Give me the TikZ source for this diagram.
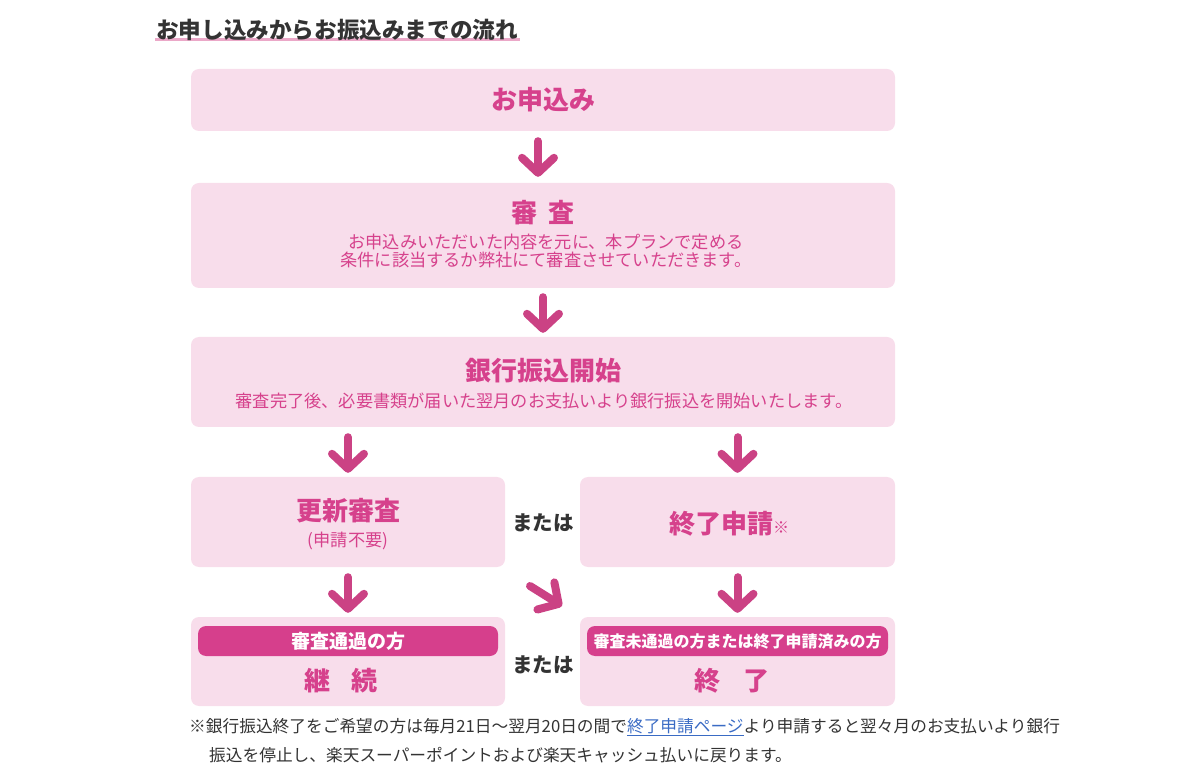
\documentclass[tikz,border=0pt]{standalone}
\usepackage{fontspec}
\setmainfont{Noto Sans CJK JP}
\usetikzlibrary{arrows.meta}
\definecolor{boxfill}{HTML}{F8DDEB}
\definecolor{pk}{HTML}{D6418C}
\definecolor{arrc}{HTML}{CB4284}
\definecolor{pillc}{HTML}{D63F8C}
\definecolor{dark}{HTML}{333333}
\definecolor{lnk}{HTML}{3A6BC4}
\definecolor{uline}{HTML}{EBA8C8}
\newcommand{\fs}[1]{\fontsize{#1}{#1}\selectfont}
\begin{document}
\begin{tikzpicture}[x=1pt,y=-1pt,
  box/.style={fill=boxfill, rounded corners=8pt, inner sep=0pt, draw=none},
  pill/.style={fill=pillc, rounded corners=8pt, inner sep=0pt, text=white, font=\fs{19}\bfseries},
  ttl/.style={text=pk, font=\fs{26}\bfseries, inner sep=0pt},
  sub/.style={text=pk, font=\fs{17.2}, inner sep=0pt},
  orlabel/.style={text=dark, font=\fs{20.5}\bfseries, inner sep=0pt},
  note/.style={text=dark, font=\fs{16.7}, inner sep=0pt, anchor=west},
  flow/.style={draw=arrc, line width=8pt, line cap=round,
    -{Straight Barb[length=15pt,width=32pt,round]}}]
\useasboundingbox (0,0) rectangle (1200,775);
% title with pink underline
\fill[uline] (155,38) rectangle (520,41);
\node[text=dark, font=\fs{22.6}\bfseries, inner sep=0pt, anchor=west] (title) at (156,30) {お申し込みからお振込みまでの流れ};
% boxes
\node[box, minimum width=704pt, minimum height=62pt] (b1) at (543,100) {};
\node[box, minimum width=704pt, minimum height=105pt] (b2) at (543,235.5) {};
\node[box, minimum width=704pt, minimum height=90pt] (b3) at (543,382) {};
\node[box, minimum width=314pt, minimum height=90pt] (b4) at (348,522) {};
\node[box, minimum width=315pt, minimum height=90pt] (b5) at (737.5,522) {};
\node[box, minimum width=314pt, minimum height=89pt] (b6) at (348,661.5) {};
\node[box, minimum width=315pt, minimum height=89pt] (b7) at (737.5,661.5) {};
% texts
\node[ttl] (t1) at (543,100) {お申込み};
\node[ttl] (t2) at (543,213) {審\hspace{12pt}査};
\node[sub] (s2a) at (546,242) {お申込みいただいた内容を元に、本プランで定める};
\node[sub] (s2b) at (546,260) {条件に該当するか弊社にて審査させていただきます。};
\node[ttl] (t3) at (543,371) {銀行振込開始};
\node[sub] (s3) at (544,401) {審査完了後、必要書類が届いた翌月のお支払いより銀行振込を開始いたします。};
\node[ttl] (t4) at (348,511) {更新審査};
\node[sub] (s4) at (348,541) {(申請不要)};
\node[ttl] (t5) at (729,524) {終了申請{\fs{16}\bfseries ※}};
\node[orlabel] (or1) at (543,523) {または};
\node[pill, minimum width=300pt, minimum height=30pt] (p6) at (348,641) {審査通過の方};
\node[pill, minimum width=301pt, minimum height=30pt, font=\fs{16}\bfseries] (p7) at (737.5,641) {審査未通過の方または終了申請済みの方};
\node[ttl] (t6) at (341,681) {継\hspace{21pt}続};
\node[ttl] (t7) at (732,681) {終\hspace{23pt}了};
\node[orlabel] (or2) at (543,665) {または};
% arrows
\draw[flow, shorten <=10pt, shorten >=6pt] ([xshift=-5pt]b1.south) -- ([xshift=-5pt]b2.north);
\draw[flow, shorten <=9pt, shorten >=4pt] (b2.south) -- (b3.north);
\draw[flow, shorten <=10pt, shorten >=4pt] (b4.north |- b3.south) -- (b4.north);
\draw[flow, shorten <=10pt, shorten >=4pt] (b5.north |- b3.south) -- (b5.north);
\draw[flow, shorten <=10pt, shorten >=4pt] (b4.south) -- (b6.north);
\draw[flow, shorten <=10pt, shorten >=4pt] (b5.south) -- (b7.north);
\coordinate (d1) at (530,586);
\coordinate (d2) at (562,606);
\draw[flow] (d1) -- (d2);
% footnote
\node[note] (n1) at (189,727) {※銀行振込終了をご希望の方は毎月21日～翌月20日の間で{\color{lnk}\underline{終了申請ページ}}より申請すると翌々月のお支払いより銀行};
\node[note] (n2) at (209,755) {振込を停止し、楽天スーパーポイントおよび楽天キャッシュ払いに戻ります。};
\end{tikzpicture}
\end{document}
